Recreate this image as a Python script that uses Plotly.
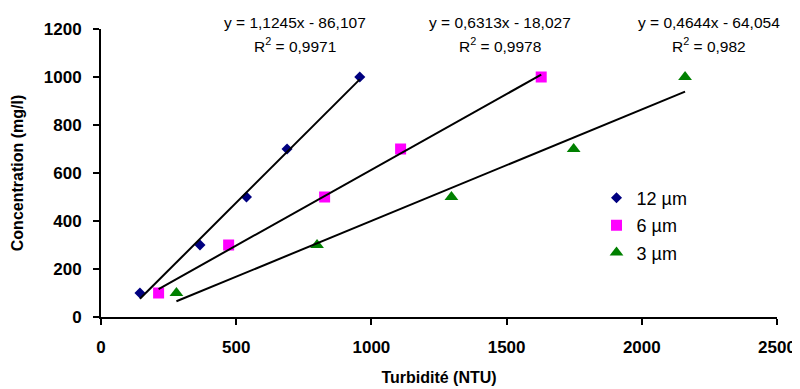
import plotly.graph_objects as go

# Data
conc = [100, 300, 500, 700, 1000]
turb_12 = [144, 366, 538, 688, 957]
turb_6 = [213, 472, 827, 1108, 1628]
turb_3 = [279, 799, 1296, 1748, 2160]

series_names = ["12 µm", "6 µm", "3 µm"]
slopes = [1.1245, 0.6313, 0.4644]
intercepts = [-86.107, -18.027, -64.054]
eq_texts = ["y = 1,1245x - 86,107", "y = 0,6313x - 18,027", "y = 0,4644x - 64,054"]
r2_texts = ["R<sup>2</sup> = 0,9971", "R<sup>2</sup> = 0,9978", "R<sup>2</sup> = 0,982"]
eq_x = [717, 1474, 2247]

colors = ["#000080", "#FF00FF", "#008000"]
symbols = ["diamond", "square", "triangle-up"]
sizes = [8.5, 11, 12]

xs = [turb_12, turb_6, turb_3]

fig = go.Figure()
for i in range(3):
    fig.add_trace(go.Scatter(
        x=xs[i], y=conc, mode="markers", name=series_names[i],
        legendgroup=series_names[i],
        marker=dict(symbol=symbols[i], color=colors[i], size=sizes[i], line=dict(width=0)),
    ))
for i in range(3):
    x0, x1 = min(xs[i]), max(xs[i])
    fig.add_trace(go.Scatter(
        x=[x0, x1], y=[slopes[i] * x0 + intercepts[i], slopes[i] * x1 + intercepts[i]],
        mode="lines", line=dict(color="black", width=2), showlegend=False, hoverinfo="skip",
    ))

for i in range(3):
    fig.add_annotation(x=eq_x[i], y=1.021, xref="x", yref="paper", text=eq_texts[i],
                       showarrow=False, font=dict(size=15.5, color="black"), xanchor="center", yanchor="middle")
    fig.add_annotation(x=eq_x[i], y=0.944, xref="x", yref="paper", text=r2_texts[i],
                       showarrow=False, font=dict(size=15.5, color="black"), xanchor="center", yanchor="middle")

# page body adds an 8 px offset, so margins are reduced accordingly
fig.update_layout(
    width=800, height=389,
    margin=dict(l=93, r=31, t=21, b=80),
    paper_bgcolor="white", plot_bgcolor="white",
    font=dict(family="Arial, Liberation Sans, sans-serif", color="black"),
    showlegend=True,
    legend=dict(x=0.733, y=0.477, xanchor="left", yanchor="top", font=dict(size=18),
                itemwidth=30, tracegroupgap=1, bgcolor="rgba(0,0,0,0)"),
    xaxis=dict(range=[0, 2500], tickvals=[0, 500, 1000, 1500, 2000, 2500], automargin=False,
               showgrid=False, zeroline=False, showline=True, linecolor="black", linewidth=2,
               ticks="outside", ticklen=6, tickwidth=2, tickcolor="black", ticklabelstandoff=8,
               tickfont=dict(size=17, weight="bold"),
               title=dict(text="Turbidité (NTU)", font=dict(size=16, weight="bold"), standoff=15)),
    yaxis=dict(range=[0, 1200], tickvals=[0, 200, 400, 600, 800, 1000, 1200], automargin=False,
               showgrid=False, zeroline=False, showline=True, linecolor="black", linewidth=2,
               ticks="outside", ticklen=6, tickwidth=2, tickcolor="black", ticklabelstandoff=8,
               tickfont=dict(size=17, weight="bold"),
               title=dict(text="Concentration (mg/l)", font=dict(size=16, weight="bold"), standoff=16)),
)

fig.write_html("out.html")
